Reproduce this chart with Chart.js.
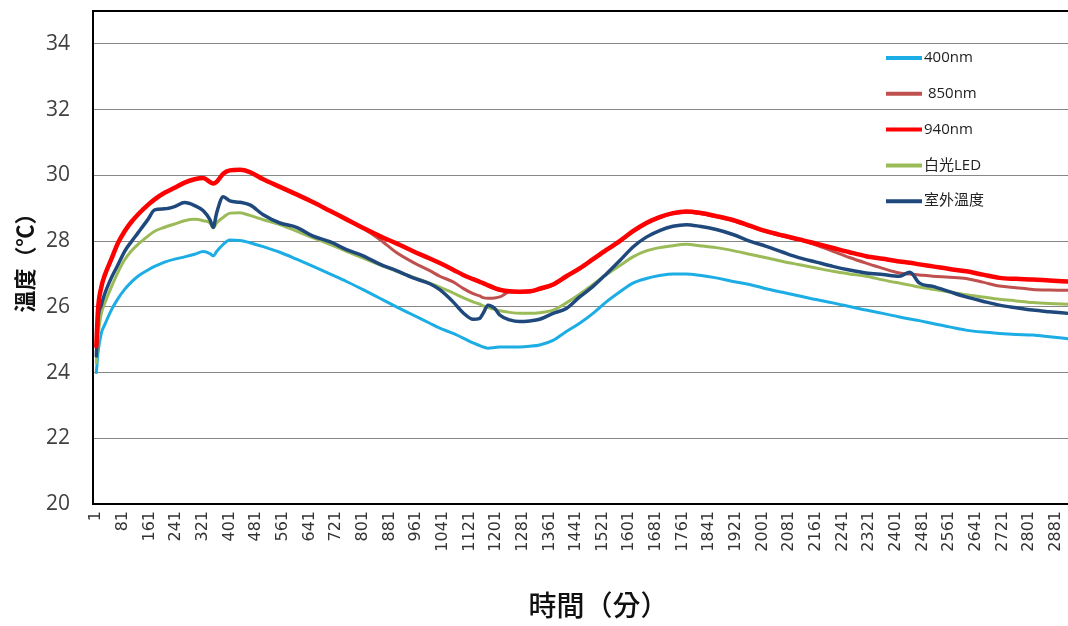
<!DOCTYPE html>
<html><head><meta charset="utf-8">
<script src="https://cdn.jsdelivr.net/npm/chart.js@4.4.1/dist/chart.umd.min.js"></script>
<style>
html,body{margin:0;padding:0;background:#fff;overflow:hidden;}
#wrap{position:relative;width:1104px;height:626px;}
</style></head><body>
<div id="wrap"><canvas id="c" width="1104" height="626"></canvas></div>
<script>
// time in minutes
const minutes = [1,6,16,26,46,66,86,106,126,156,176,206,236,266,296,322,342,352,362,382,402,432,462,502,552,602,652,702,752,802,852,902,952,1002,1032,1072,1102,1132,1152,1162,1177,1197,1212,1242,1272,1302,1332,1372,1412,1452,1492,1532,1572,1612,1652,1692,1732,1772,1812,1862,1912,1962,2012,2062,2112,2162,2212,2262,2312,2362,2412,2443,2472,2512,2562,2612,2662,2712,2762,2812,2862,2918];

const s400 = [24.0,24.6,25.2,25.45,25.9,26.25,26.53,26.75,26.93,27.12,27.23,27.36,27.45,27.52,27.6,27.68,27.62,27.55,27.68,27.9,28.03,28.02,27.95,27.83,27.66,27.45,27.23,27.0,26.77,26.52,26.26,26.0,25.75,25.5,25.35,25.19,25.05,24.9,24.82,24.78,24.74,24.76,24.78,24.78,24.78,24.8,24.84,24.98,25.25,25.5,25.8,26.15,26.45,26.72,26.86,26.95,27.0,27.0,26.96,26.88,26.77,26.68,26.55,26.44,26.33,26.22,26.12,26.01,25.9,25.8,25.69,25.63,25.58,25.49,25.39,25.29,25.23,25.19,25.16,25.14,25.09,25.03];

const s850 = [24.8,25.9,26.6,26.95,27.45,27.94,28.3,28.58,28.81,29.1,29.27,29.47,29.62,29.78,29.88,29.92,29.8,29.75,29.8,30.05,30.15,30.17,30.1,29.88,29.65,29.42,29.18,28.92,28.66,28.38,28.05,27.65,27.35,27.1,26.93,26.76,26.56,26.4,26.33,26.28,26.26,26.27,26.3,26.45,26.44,26.45,26.53,26.66,26.91,27.15,27.43,27.71,27.98,28.28,28.53,28.71,28.83,28.88,28.84,28.74,28.62,28.45,28.28,28.15,28.03,27.88,27.69,27.5,27.33,27.17,27.03,27.0,26.97,26.93,26.9,26.86,26.75,26.63,26.58,26.53,26.51,26.5];

const s940 = [24.8,25.9,26.6,26.95,27.45,27.94,28.3,28.58,28.81,29.1,29.27,29.47,29.62,29.78,29.88,29.92,29.8,29.75,29.8,30.05,30.15,30.17,30.1,29.88,29.65,29.42,29.18,28.92,28.66,28.4,28.15,27.93,27.69,27.47,27.33,27.13,26.97,26.84,26.76,26.72,26.65,26.57,26.52,26.47,26.46,26.47,26.55,26.68,26.93,27.17,27.45,27.73,28.0,28.3,28.55,28.73,28.85,28.9,28.86,28.76,28.64,28.47,28.3,28.17,28.05,27.92,27.79,27.66,27.54,27.46,27.38,27.34,27.29,27.23,27.15,27.08,26.98,26.88,26.85,26.83,26.8,26.77];

const sWhiteLed = [24.3,25.1,25.8,26.1,26.6,27.05,27.43,27.7,27.9,28.15,28.3,28.42,28.52,28.62,28.66,28.62,28.55,28.4,28.55,28.72,28.85,28.86,28.78,28.65,28.5,28.3,28.1,27.9,27.69,27.48,27.28,27.08,26.9,26.72,26.6,26.42,26.28,26.15,26.08,26.03,25.98,25.92,25.88,25.83,25.8,25.8,25.82,25.9,26.12,26.38,26.68,26.98,27.25,27.52,27.7,27.8,27.86,27.9,27.86,27.8,27.71,27.6,27.49,27.38,27.28,27.18,27.08,27.0,26.93,26.82,26.72,26.66,26.6,26.53,26.45,26.37,26.3,26.23,26.18,26.13,26.1,26.08];

const sOutdoor = [24.5,25.6,26.05,26.39,26.88,27.28,27.69,27.98,28.25,28.66,28.95,28.98,29.05,29.17,29.08,28.92,28.65,28.42,28.85,29.35,29.22,29.18,29.1,28.8,28.55,28.42,28.15,27.98,27.74,27.55,27.3,27.1,26.88,26.7,26.52,26.15,25.82,25.62,25.65,25.8,26.05,25.95,25.75,25.6,25.55,25.57,25.62,25.8,25.95,26.3,26.62,27.0,27.4,27.82,28.12,28.32,28.45,28.5,28.45,28.35,28.2,28.0,27.84,27.66,27.49,27.36,27.23,27.12,27.03,26.98,26.93,27.05,26.72,26.62,26.46,26.3,26.17,26.05,25.97,25.9,25.85,25.8];

const seriesNames = ['400nm', ' 850nm', '940nm', '白光LED', '室外溫度'];
const xTickLabels = [1,81,161,241,321,401,481,561,641,721,801,881,961,1041,1121,1201,1281,1361,1441,1521,1601,1681,1761,1841,1921,2001,2081,2161,2241,2321,2401,2481,2561,2641,2721,2801,2881];
const yTickLabels = [20,22,24,26,28,30,32,34];

const seriesColors = ['#1CADE4', '#C0504D', '#FF0000', '#9BBB59', '#1F497D'];
const toPts = arr => arr.map((v, i) => ({x: minutes[i], y: v}));

const frame = {
  id: 'frame',
  afterDraw(c) {
    const {ctx, chartArea: a} = c;
    ctx.save();
    ctx.strokeStyle = '#000'; ctx.lineWidth = 2;
    ctx.beginPath(); ctx.moveTo(a.left - 1, a.top); ctx.lineTo(a.right, a.top); ctx.stroke();
    ctx.restore();
  }
};

const legendBox = {
  id: 'legendBox',
  afterDraw(c) {
    const ctx = c.ctx;
    ctx.save();
    c.data.datasets.forEach((ds, i) => {
      const y = 58 + i * 35.8;
      ctx.strokeStyle = ds.borderColor;
      ctx.lineWidth = 4;
      ctx.beginPath(); ctx.moveTo(886, y); ctx.lineTo(922, y); ctx.stroke();
      ctx.fillStyle = '#222';
      ctx.font = '15px "Open Sans", "Noto Sans CJK TC", sans-serif';
      ctx.textBaseline = 'middle';
      ctx.textAlign = 'left';
      ctx.fillText(ds.label, 924, y);
    });
    ctx.restore();
  }
};

const noPad = s => { s.paddingTop = 0; s.paddingBottom = 0; s.paddingLeft = 0; s.paddingRight = 0; };

new Chart(document.getElementById('c'), {
  type: 'line',
  data: {
    datasets: [
      {label: seriesNames[0], data: toPts(s400), borderColor: seriesColors[0], borderWidth: 3, order: 4},
      {label: seriesNames[1], data: toPts(s850), borderColor: seriesColors[1], borderWidth: 3, order: 2},
      {label: seriesNames[2], data: toPts(s940), borderColor: seriesColors[2], borderWidth: 4.5, order: 0},
      {label: seriesNames[3], data: toPts(sWhiteLed), borderColor: seriesColors[3], borderWidth: 3, order: 3},
      {label: seriesNames[4], data: toPts(sOutdoor), borderColor: seriesColors[4], borderWidth: 3.5, order: 1}
    ]
  },
  options: {
    responsive: false,
    animation: false,
    devicePixelRatio: 1,
    layout: {padding: {top: 11, right: 0, bottom: 0, left: 0}},
    elements: {
      point: {radius: 0},
      line: {cubicInterpolationMode: 'monotone', borderJoinStyle: 'round', borderCapStyle: 'round', fill: false}
    },
    plugins: {legend: {display: false}, tooltip: {enabled: false}},
    scales: {
      x: {
        type: 'linear', min: -9, max: 3026,
        afterBuildTicks: s => { s.ticks = xTickLabels.map(v => ({value: v})); },
        afterFit: s => { s.height = 122; noPad(s); },
        grid: {display: false, drawTicks: false},
        border: {display: true, color: '#000', width: 2},
        ticks: {autoSkip: false, maxRotation: 90, minRotation: 90, padding: 7, color: '#333',
          font: {family: 'DejaVu Sans', size: 16}, callback: v => String(v)},
        title: {display: true, text: '時間（分）', color: '#111',
          font: {family: 'Noto Sans CJK TC', size: 28, weight: '500'}, padding: {top: 0, bottom: 4}}
      },
      y: {
        min: 20, max: 35,
        afterBuildTicks: s => { s.ticks = yTickLabels.map(v => ({value: v})); },
        afterFit: s => { s.width = 93; noPad(s); },
        grid: {color: '#878787', lineWidth: 1, drawTicks: false},
        border: {display: true, color: '#000', width: 2},
        ticks: {padding: 23, color: '#404040', font: {family: 'Open Sans', size: 21}},
        title: {display: true, text: '溫度（℃）', color: '#111',
          font: {family: 'Noto Sans CJK TC', size: 22, weight: 'bold'}, padding: {top: 11, bottom: 0}}
      }
    }
  },
  plugins: [frame, legendBox]
});
</script>
</body></html>
